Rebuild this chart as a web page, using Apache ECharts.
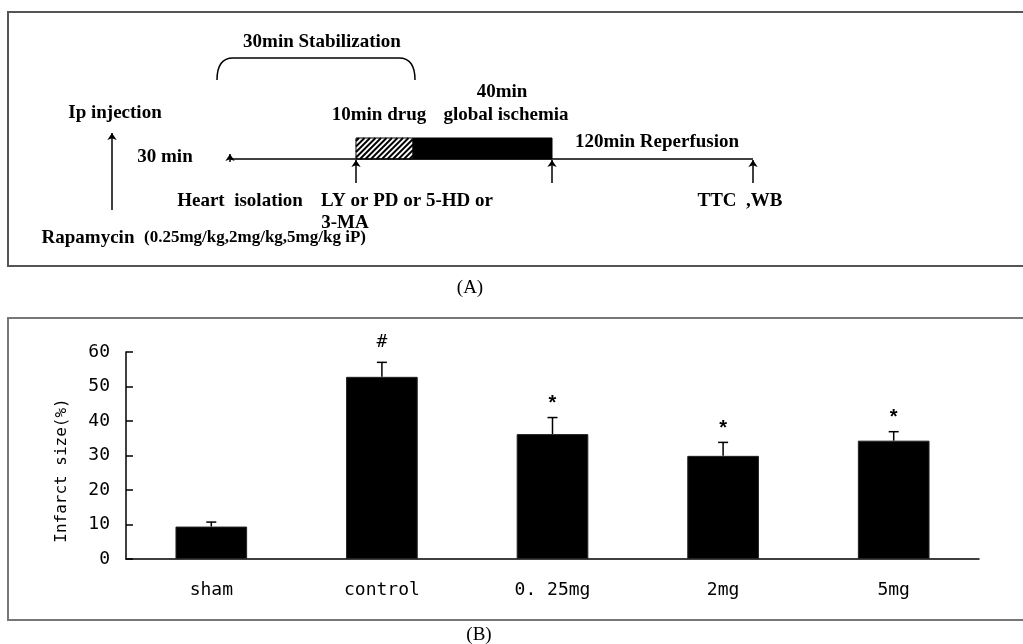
<!DOCTYPE html>
<html><head><meta charset="utf-8">
<script src="https://cdn.jsdelivr.net/npm/echarts@6/dist/echarts.min.js"></script>
<style>html,body{margin:0;padding:0;background:#fff}#c{width:1023px;height:644px}</style>
</head><body><div id="c"></div>
<script>
// ---- Panel B data ----
const categories = ['sham', 'control', '0. 25mg', '2mg', '5mg'];
const infarctSize = [9.4, 52.8, 36.2, 29.9, 34.3];
const infarctSE = [1.3, 4.2, 4.8, 3.9, 2.6];
const sigMarks = ['', '#', '*', '*', '*'];
const yAxisMax = 60;
const yAxisStep = 10;

// ---- Panel A protocol diagram (diagram units) ----
const diagramLabels = [
  [314, 30, '30min Stabilization'],
  [107, 101, 'Ip injection'],
  [157, 145, '30 min'],
  [371, 103, '10min drug'],
  [494, 80, '40min'],
  [498, 103, 'global ischemia'],
  [649, 130, '120min Reperfusion'],
  [232, 189, 'Heart  isolation'],
  [399, 189, 'LY or PD or 5-HD or'],
  [337, 211, '3-MA'],
  [80, 226, 'Rapamycin'],
  [732, 189, 'TTC  ,WB']
];
const doseLabel = [[247, 226, '(0.25mg/kg,2mg/kg,5mg/kg iP)']];
const timelineLine = [[222, 147], [745, 147]];
const stageBlocks = [[348, 126, 405, 147], [405, 126, 544, 147]];
const stageFill = ['hatch', 'solid'];
const arrows = [
  [[104, 198], [104, 121]],
  [[348, 171], [348, 148]],
  [[544, 171], [544, 148]],
  [[745, 171], [745, 148]],
  [[222, 150], [222, 142]]
];
const bracket = [[209, 68, 407, 46]];

const chart = echarts.init(document.getElementById('c'));
const monoFont = 'DejaVu Sans Mono';
const serifFont = 'Liberation Serif';

function textSeries(arr, size) {
  return {
    type: 'custom', xAxisIndex: 1, yAxisIndex: 1, silent: true,
    data: arr.map(d => [d[0], d[1]]),
    renderItem: function (params, api) {
      const p = api.coord([api.value(0), api.value(1)]);
      return {
        type: 'text', x: p[0], y: p[1],
        style: {
          text: arr[params.dataIndex][2], fill: '#000',
          fontFamily: serifFont, fontWeight: 'bold', fontSize: size,
          align: 'center', verticalAlign: 'middle'
        }
      };
    }
  };
}

const option = {
  animation: false,
  backgroundColor: '#fff',
  grid: [
    { left: 126, right: 44, top: 352, bottom: 85 },
    { left: 8, top: 12, width: 1015, height: 254, show: false }
  ],
  xAxis: [
    {
      type: 'category', gridIndex: 0, data: categories,
      axisLine: { lineStyle: { color: '#000', width: 1.5 } },
      axisTick: { inside: true, length: 5, lineStyle: { color: '#000', width: 1.5 } },
      axisLabel: { margin: 22, color: '#000', fontFamily: monoFont, fontSize: 18 }
    },
    { type: 'value', gridIndex: 1, min: 0, max: 1015, show: false }
  ],
  yAxis: [
    {
      type: 'value', gridIndex: 0, min: 0, max: yAxisMax, interval: yAxisStep,
      name: 'Infarct size(%)', nameLocation: 'middle', nameGap: 56,
      nameTextStyle: { color: '#000', fontFamily: monoFont, fontSize: 16, padding: [0, 30, 0, 0] },
      axisLine: { show: true, lineStyle: { color: '#000', width: 1.5 } },
      axisTick: { show: true, inside: true, length: 7, lineStyle: { color: '#000', width: 1.5 } },
      axisLabel: { margin: 16, color: '#000', fontFamily: monoFont, fontSize: 18 },
      splitLine: { show: false }
    },
    { type: 'value', gridIndex: 1, min: 0, max: 254, inverse: true, show: false }
  ],
  graphic: [
    { type: 'rect', shape: { x: 8, y: 12, width: 1100, height: 254 }, style: { fill: 'none', stroke: '#555', lineWidth: 2 } },
    { type: 'rect', shape: { x: 8, y: 318, width: 1100, height: 302 }, style: { fill: 'none', stroke: '#777', lineWidth: 2 } },
    { type: 'text', x: 470, y: 288, style: { text: '(A)', fontFamily: serifFont, fontSize: 19, fill: '#000', align: 'center', verticalAlign: 'middle' } },
    { type: 'text', x: 479, y: 635, style: { text: '(B)', fontFamily: serifFont, fontSize: 19, fill: '#000', align: 'center', verticalAlign: 'middle' } }
  ],
  series: [
    {
      type: 'bar', xAxisIndex: 0, yAxisIndex: 0, data: infarctSize,
      barCategoryGap: '58%',
      itemStyle: { color: '#000', borderColor: '#222', borderWidth: 1 }
    },
    {
      type: 'custom', xAxisIndex: 0, yAxisIndex: 0, silent: true,
      data: infarctSize.map((v, i) => [i, v, infarctSE[i]]),
      renderItem: function (params, api) {
        const i = api.value(0), m = api.value(1), e = api.value(2);
        const b = api.coord([i, m]);
        const t = api.coord([i, m + e]);
        const st = { stroke: '#000', lineWidth: 1.5 };
        const children = [
          { type: 'line', shape: { x1: b[0], y1: b[1], x2: t[0], y2: t[1] }, style: st },
          { type: 'line', shape: { x1: t[0] - 5, y1: t[1], x2: t[0] + 5, y2: t[1] }, style: st }
        ];
        const mark = sigMarks[params.dataIndex];
        if (mark) {
          children.push({
            type: 'text', x: t[0], y: t[1] - (mark === '#' ? 20 : 14),
            style: {
              text: mark, fill: '#000', align: 'center', verticalAlign: 'middle',
              fontFamily: mark === '#' ? monoFont : 'Liberation Sans',
              fontSize: mark === '#' ? 18 : 20, fontWeight: mark === '#' ? 'normal' : 'bold'
            }
          });
        }
        return { type: 'group', children: children };
      }
    },
    {
      type: 'line', xAxisIndex: 1, yAxisIndex: 1, data: timelineLine,
      symbol: 'none', silent: true,
      lineStyle: { color: '#000', width: 1.5 }
    },
    {
      type: 'custom', xAxisIndex: 1, yAxisIndex: 1, silent: true,
      data: stageBlocks,
      encode: { x: [0, 2], y: [1, 3] },
      renderItem: function (params, api) {
        const a = api.coord([api.value(0), api.value(1)]);
        const c = api.coord([api.value(2), api.value(3)]);
        const x0 = a[0], y0 = a[1], x1 = c[0], y1 = c[1];
        if (stageFill[params.dataIndex] === 'solid') {
          return { type: 'rect', shape: { x: x0, y: y0, width: x1 - x0, height: y1 - y0 }, style: { fill: '#000', stroke: '#000', lineWidth: 1 } };
        }
        const children = [{ type: 'rect', shape: { x: x0, y: y0, width: x1 - x0, height: y1 - y0 }, style: { fill: '#fff', stroke: '#000', lineWidth: 1 } }];
        for (let k = x0 + y0 + 3; k < x1 + y1; k += 5.5) {
          const px1 = Math.max(x0, k - y1), px2 = Math.min(x1, k - y0);
          if (px2 > px1) {
            children.push({ type: 'line', shape: { x1: px1, y1: k - px1, x2: px2, y2: k - px2 }, style: { stroke: '#000', lineWidth: 2 } });
          }
        }
        return { type: 'group', children: children };
      }
    },
    {
      type: 'lines', coordinateSystem: 'cartesian2d', xAxisIndex: 1, yAxisIndex: 1, silent: true,
      data: arrows.map(a => ({ coords: a })),
      symbol: ['none', 'arrow'], symbolSize: 7,
      lineStyle: { color: '#000', width: 1.5, opacity: 1 }
    },
    {
      type: 'custom', xAxisIndex: 1, yAxisIndex: 1, silent: true,
      data: bracket,
      encode: { x: [0, 2], y: [1, 3] },
      renderItem: function (params, api) {
        const l = api.coord([api.value(0), api.value(1)]);
        const r = api.coord([api.value(2), api.value(3)]);
        const xl = l[0], yb = l[1], xr = r[0], yt = r[1];
        const st = { stroke: '#000', lineWidth: 1.5, fill: 'none' };
        return {
          type: 'group', children: [
            { type: 'bezierCurve', shape: { x1: xl, y1: yb, x2: xl + 16, y2: yt, cpx1: xl, cpy1: yt }, style: st },
            { type: 'line', shape: { x1: xl + 16, y1: yt, x2: xr - 16, y2: yt }, style: st },
            { type: 'bezierCurve', shape: { x1: xr - 16, y1: yt, x2: xr, y2: yb, cpx1: xr, cpy1: yt }, style: st }
          ]
        };
      }
    },
    textSeries(diagramLabels, 19),
    textSeries(doseLabel, 17)
  ]
};
chart.setOption(option);
</script>
</body></html>
